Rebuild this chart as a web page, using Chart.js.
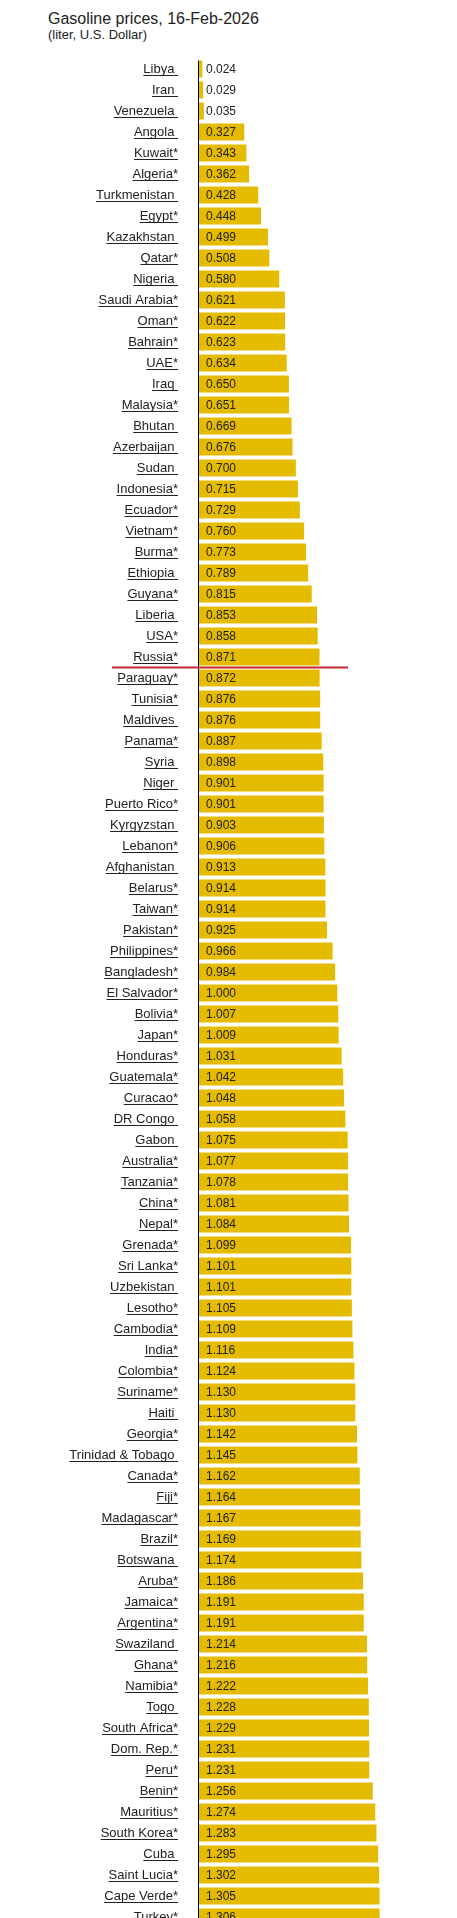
<!DOCTYPE html>
<html>
<head>
<meta charset="utf-8">
<script src="https://cdn.jsdelivr.net/npm/chart.js@4"></script>
<style>
  html, body { margin: 0; padding: 0; overflow: hidden; background: #fff; }
  body { width: 457px; height: 1918px; position: relative; font-family: "Liberation Sans", Arial, sans-serif; color: #222; }
  #titulo { position: absolute; left: 48px; top: 10.5px; font-size: 16px; line-height: 16px; white-space: nowrap; }
  #subtitulo { position: absolute; left: 48px; top: 27.5px; font-size: 13px; line-height: 13px; white-space: nowrap; }
  #wrap { position: absolute; left: 0; top: 0; width: 457px; height: 1930px; }
</style>
</head>
<body>
<div id="titulo">Gasoline prices, 16-Feb-2026</div>
<div id="subtitulo">(liter, U.S. Dollar)</div>
<div id="wrap"><canvas id="grafico"></canvas></div>
<script>
// Paises (el * viene del original)
const paises = [
  "Libya", "Iran", "Venezuela", "Angola", "Kuwait*", "Algeria*", "Turkmenistan", "Egypt*",
  "Kazakhstan", "Qatar*", "Nigeria", "Saudi Arabia*", "Oman*", "Bahrain*", "UAE*", "Iraq",
  "Malaysia*", "Bhutan", "Azerbaijan", "Sudan", "Indonesia*", "Ecuador*", "Vietnam*", "Burma*",
  "Ethiopia", "Guyana*", "Liberia", "USA*", "Russia*", "Paraguay*", "Tunisia*", "Maldives",
  "Panama*", "Syria", "Niger", "Puerto Rico*", "Kyrgyzstan", "Lebanon*", "Afghanistan", "Belarus*",
  "Taiwan*", "Pakistan*", "Philippines*", "Bangladesh*", "El Salvador*", "Bolivia*", "Japan*", "Honduras*",
  "Guatemala*", "Curacao*", "DR Congo", "Gabon", "Australia*", "Tanzania*", "China*", "Nepal*",
  "Grenada*", "Sri Lanka*", "Uzbekistan", "Lesotho*", "Cambodia*", "India*", "Colombia*", "Suriname*",
  "Haiti", "Georgia*", "Trinidad & Tobago", "Canada*", "Fiji*", "Madagascar*", "Brazil*", "Botswana",
  "Aruba*", "Jamaica*", "Argentina*", "Swaziland", "Ghana*", "Namibia*", "Togo", "South Africa*",
  "Dom. Rep.*", "Peru*", "Benin*", "Mauritius*", "South Korea*", "Cuba", "Saint Lucia*", "Cape Verde*",
  "Turkey*"
];

// Precio por litro (USD)
const precios = [
  0.024, 0.029, 0.035, 0.327, 0.343, 0.362, 0.428, 0.448,
  0.499, 0.508, 0.580, 0.621, 0.622, 0.623, 0.634, 0.650,
  0.651, 0.669, 0.676, 0.700, 0.715, 0.729, 0.760, 0.773,
  0.789, 0.815, 0.853, 0.858, 0.871, 0.872, 0.876, 0.876,
  0.887, 0.898, 0.901, 0.901, 0.903, 0.906, 0.913, 0.914,
  0.914, 0.925, 0.966, 0.984, 1.000, 1.007, 1.009, 1.031,
  1.042, 1.048, 1.058, 1.075, 1.077, 1.078, 1.081, 1.084,
  1.099, 1.101, 1.101, 1.105, 1.109, 1.116, 1.124, 1.130,
  1.130, 1.142, 1.145, 1.162, 1.164, 1.167, 1.169, 1.174,
  1.186, 1.191, 1.191, 1.214, 1.216, 1.222, 1.228, 1.229,
  1.231, 1.231, 1.256, 1.274, 1.283, 1.295, 1.302, 1.305,
  1.306
];

// linea roja despues de este pais
const marcaPais = "Russia*";

const fuente = '"Liberation Sans", Arial, sans-serif';

// etiquetas, valores, eje y linea roja
const dibujoExtra = {
  id: "dibujoExtra",
  afterDatasetsDraw(chart) {
    const c = chart.ctx;
    const area = chart.chartArea;
    const ys = chart.scales.y;
    const meta = chart.getDatasetMeta(0);

    c.save();
    // etiquetas de paises, subrayadas
    c.font = "13px " + fuente;
    c.fillStyle = "#222";
    c.strokeStyle = "#222";
    c.lineWidth = 1;
    c.textAlign = "right";
    c.textBaseline = "middle";
    paises.forEach((p, i) => {
      const y = ys.getPixelForValue(i);
      const txt = p.endsWith("*") ? p : p + " ";
      const xr = area.left - 21;
      c.fillText(txt, xr, y);
      const w = c.measureText(txt).width;
      c.beginPath();
      c.moveTo(xr - w, Math.round(y + 6) + 0.5);
      c.lineTo(xr, Math.round(y + 6) + 0.5);
      c.stroke();
    });

    // valores dentro de la barra
    c.font = "12px " + fuente;
    c.textAlign = "left";
    precios.forEach((v, i) => {
      const y = ys.getPixelForValue(i);
      c.fillText(v.toFixed(3), area.left + 7, y + 0.5);
    });

    // eje vertical
    const primera = meta.data[0];
    c.strokeStyle = "#000";
    c.beginPath();
    c.moveTo(area.left - 0.5, primera.y - primera.height / 2);
    c.lineTo(area.left - 0.5, area.bottom);
    c.stroke();

    // linea roja
    const idx = paises.indexOf(marcaPais);
    const yr = (ys.getPixelForValue(idx) + ys.getPixelForValue(idx + 1)) / 2;
    c.strokeStyle = "#c1272d";
    c.lineWidth = 2;
    c.beginPath();
    c.moveTo(area.left - 87, yr);
    c.lineTo(area.left + 149, yr);
    c.stroke();
    c.restore();
  }
};

const ctx = document.getElementById("grafico").getContext("2d");
const chart = new Chart(ctx, {
  type: "bar",
  data: {
    labels: paises,
    datasets: [{
      data: precios,
      backgroundColor: "#e5bb00",
      borderWidth: 0,
      barPercentage: 0.8,
      categoryPercentage: 1.0
    }]
  },
  options: {
    indexAxis: "y",
    responsive: true,
    maintainAspectRatio: false,
    animation: false,
    devicePixelRatio: 1,
    layout: { padding: { left: 199, right: 9, top: 58.5, bottom: 2.5 } },
    scales: {
      x: { display: false, min: 0, max: 1.8 },
      y: { display: false }
    },
    plugins: {
      legend: { display: false },
      tooltip: { enabled: false },
      title: { display: false }
    }
  },
  plugins: [dibujoExtra]
});
</script>
</body>
</html>
